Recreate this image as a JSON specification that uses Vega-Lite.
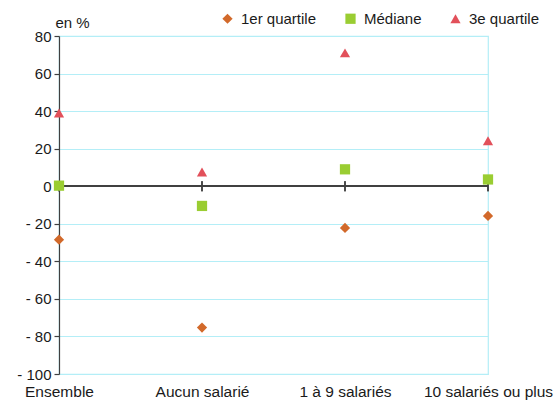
{
  "$schema": "https://vega.github.io/schema/vega-lite/v6.json",
  "autosize": {"type": "none"},
  "width": 429,
  "height": 338,
  "padding": {"left": 59, "top": 36, "right": 69, "bottom": 31},
  "config": {
    "font": "Liberation Sans",
    "view": {"stroke": "#B4EEF7", "strokeWidth": 1.2},
    "background": "white",
    "axisY": {
      "values": [-100, -80, -60, -40, -20, 0, 20, 40, 60, 80],
      "labelOverlap": false, "grid": true,
      "labelFontSize": 15, "labelColor": "#1a1a1a", "labelPadding": 3,
      "domainColor": "#404040", "domainWidth": 1.2,
      "tickColor": "#404040", "tickSize": 5, "tickWidth": 1.2,
      "gridColor": "#B4EEF7", "gridWidth": 1.2
    }
  },
  "data": {
    "values": [
      {"cat": "Ensemble", "serie": "1er quartile", "v": -28.5},
      {"cat": "Ensemble", "serie": "Médiane", "v": 0.3},
      {"cat": "Ensemble", "serie": "3e quartile", "v": 39},
      {"cat": "Aucun salarié", "serie": "1er quartile", "v": -75.3},
      {"cat": "Aucun salarié", "serie": "Médiane", "v": -10.5},
      {"cat": "Aucun salarié", "serie": "3e quartile", "v": 7.6},
      {"cat": "1 à 9 salariés", "serie": "1er quartile", "v": -22.2},
      {"cat": "1 à 9 salariés", "serie": "Médiane", "v": 9},
      {"cat": "1 à 9 salariés", "serie": "3e quartile", "v": 71},
      {"cat": "10 salariés ou plus", "serie": "1er quartile", "v": -15.8},
      {"cat": "10 salariés ou plus", "serie": "Médiane", "v": 3.6},
      {"cat": "10 salariés ou plus", "serie": "3e quartile", "v": 24.2}
    ]
  },
  "encoding": {
    "x": {
      "field": "cat", "type": "ordinal",
      "sort": ["Ensemble", "Aucun salarié", "1 à 9 salariés", "10 salariés ou plus"],
      "scale": {"type": "point", "padding": 0},
      "axis": {"title": null, "domain": false, "ticks": false, "labelAngle": 0, "labelOverlap": false,
               "labelFontSize": 15.5, "labelColor": "#1a1a1a", "labelPadding": 10, "grid": false}
    }
  },
  "layer": [
    {
      "mark": {"type": "rule", "color": "#404040", "strokeWidth": 1.2},
      "encoding": {"x": null, "y": {
        "datum": 0, "type": "quantitative",
        "scale": {"domain": [-100, 80], "nice": false},
        "axis": {
          "labelExpr": "datum.value < 0 ? '- ' + abs(datum.value) : datum.value",
          "title": "en %", "titleAngle": 0, "titleAlign": "left", "titleBaseline": "bottom",
          "titleX": -4, "titleY": -6, "titleFontSize": 15, "titleFontWeight": "normal", "titleColor": "#1a1a1a"
        }
      }}
    },
    {
      "mark": {"type": "rule", "color": "#404040", "strokeWidth": 1.2},
      "encoding": {
        "y": {"datum": 2.7, "type": "quantitative"},
        "y2": {"datum": -2.7}
      }
    },
    {
      "mark": {"type": "point", "filled": true, "opacity": 1, "size": 105},
      "encoding": {
        "y": {"field": "v", "type": "quantitative"},
        "color": {
          "field": "serie", "type": "nominal",
          "scale": {"domain": ["1er quartile", "Médiane", "3e quartile"], "range": ["#D2692A", "#9ACD32", "#E2505A"]},
          "legend": {
            "title": null, "orient": "none", "direction": "horizontal",
            "legendX": 161, "legendY": -25,
            "labelFontSize": 15, "labelColor": "#1a1a1a", "symbolSize": 105,
            "columnPadding": 26, "labelOffset": 6
          }
        },
        "shape": {
          "field": "serie", "type": "nominal",
          "scale": {"domain": ["1er quartile", "Médiane", "3e quartile"], "range": ["diamond", "square", "triangle-up"]},
          "legend": null
        }
      }
    }
  ]
}
